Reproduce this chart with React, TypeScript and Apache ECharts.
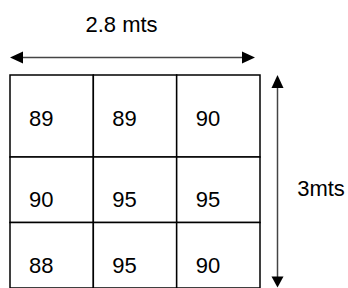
import React, { useEffect, useRef } from "react";
import * as echarts from "echarts";

// Data
const rowA = [89, 89, 90];
const rowB = [90, 95, 95];
const rowC = [88, 95, 90];
const rows = [rowA, rowB, rowC];
const widthLabel = "2.8 mts";
const heightLabel = "3mts";

// Layout (row heights in axis units, not data)
const rowHeights = [1.25, 1, 1];
const rowEdges = rowHeights.reduce((acc: number[], h) => { acc.push(acc[acc.length - 1] + h); return acc; }, [0]);

const FONT = "'Liberation Sans', Arial, sans-serif";

export default function App() {
  const ref = useRef<HTMLDivElement>(null);
  useEffect(() => {
    if (!ref.current) return;
    const chart = echarts.init(ref.current, undefined, { renderer: "svg" });
    const cells: number[][] = [];
    rows.forEach((r, ri) => r.forEach((v, ci) => cells.push([ci, ri, v])));
    const ink = "#444";
    chart.setOption({
      animation: false,
      backgroundColor: "#fff",
      grid: { left: 10, top: 75, width: 250, height: 217.75 },
      xAxis: { type: "value", min: 0, max: 3, show: false },
      yAxis: { type: "value", min: 0, max: rowEdges[rowEdges.length - 1], inverse: true, show: false },
      series: [
        {
          type: "custom",
          data: cells,
          renderItem: (params: any, api: any) => {
            const c = api.value(0);
            const r = api.value(1);
            const v = api.value(2);
            const p0 = api.coord([c, rowEdges[r]]);
            const p1 = api.coord([c + 1, rowEdges[r + 1]]);
            return {
              type: "group",
              children: [
                {
                  type: "rect",
                  shape: { x: p0[0], y: p0[1], width: p1[0] - p0[0], height: p1[1] - p0[1] },
                  style: { fill: "#fff", stroke: "#000", lineWidth: 1.5 },
                },
                {
                  type: "text",
                  x: p0[0] + 19,
                  y: p0[1] + 43,
                  style: {
                    text: String(v),
                    fontSize: 22,
                    fontFamily: FONT,
                    fill: "#000",
                    align: "left",
                    verticalAlign: "middle",
                  },
                },
              ],
            };
          },
        },
      ],
      graphic: [
        {
          type: "text",
          x: 121.5,
          y: 24.5,
          style: { text: widthLabel, fontSize: 22, fontFamily: FONT, fill: "#000", align: "center", verticalAlign: "middle" },
        },
        {
          type: "text",
          x: 321,
          y: 188.5,
          style: { text: heightLabel, fontSize: 22, fontFamily: FONT, fill: "#000", align: "center", verticalAlign: "middle" },
        },
        // horizontal arrow
        { type: "line", shape: { x1: 18, y1: 57.5, x2: 247, y2: 57.5 }, style: { stroke: ink, lineWidth: 1.5 } },
        { type: "polygon", shape: { points: [[10, 57.5], [23, 51.5], [23, 63.5]] }, style: { fill: "#000" } },
        { type: "polygon", shape: { points: [[255, 57.5], [242, 51.5], [242, 63.5]] }, style: { fill: "#000" } },
        // vertical arrow
        { type: "line", shape: { x1: 277.5, y1: 83, x2: 277.5, y2: 280 }, style: { stroke: ink, lineWidth: 1.5 } },
        { type: "polygon", shape: { points: [[277.5, 75], [271.5, 88], [283.5, 88]] }, style: { fill: "#000" } },
        { type: "polygon", shape: { points: [[277.5, 287.5], [271.5, 276.5], [283.5, 276.5]] }, style: { fill: "#000" } },
      ],
    });
    return () => chart.dispose();
  }, []);
  return <div ref={ref} style={{ position: "fixed", left: 0, top: 0, width: 348, height: 288 }} />;
}
